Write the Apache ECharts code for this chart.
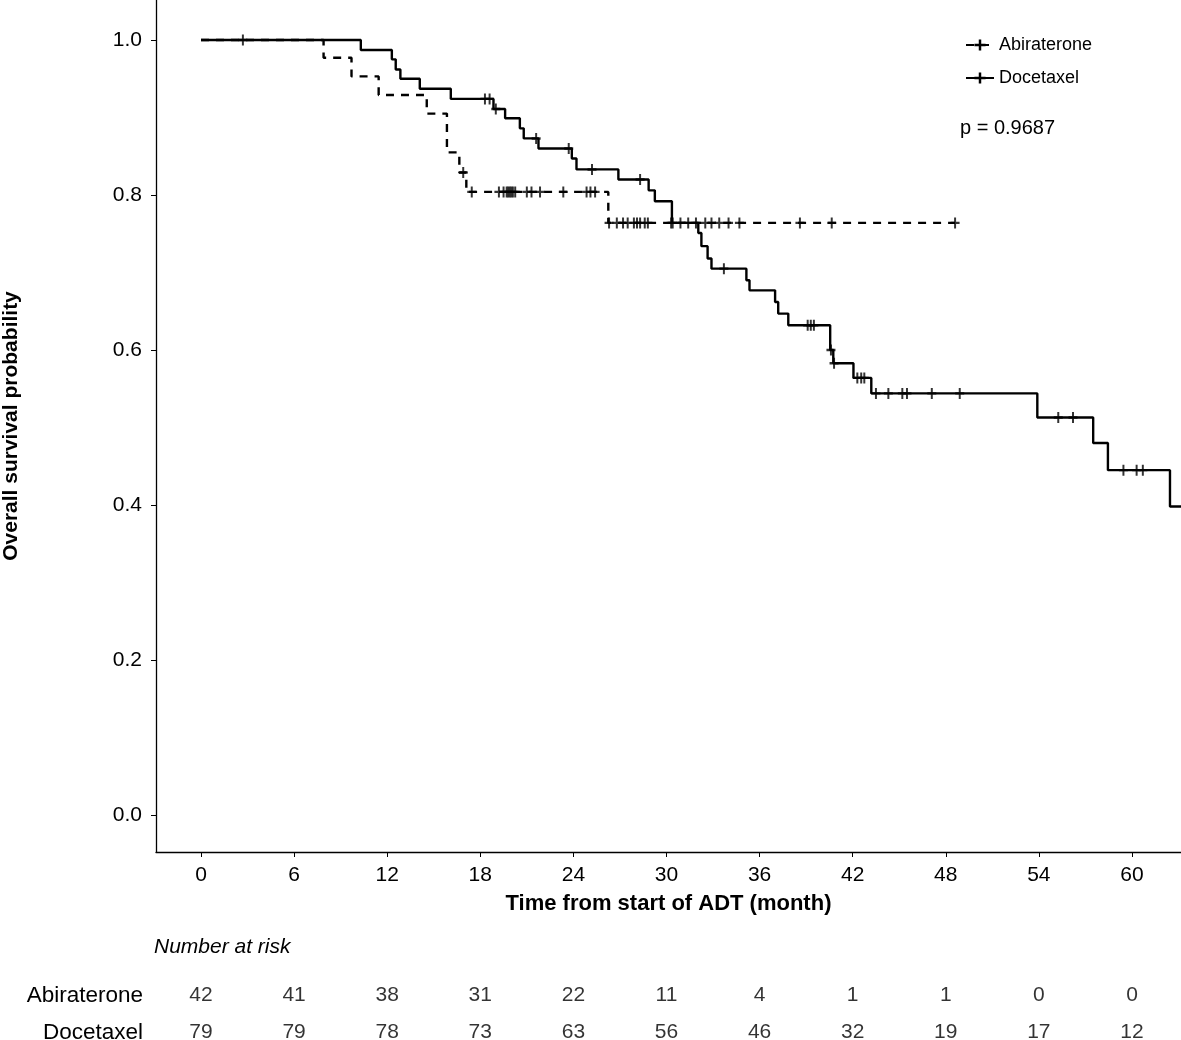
<!DOCTYPE html>
<html>
<head>
<meta charset="utf-8">
<title>Overall survival</title>
<script src="https://cdn.jsdelivr.net/npm/echarts@6/dist/echarts.min.js"></script>
<style>
    html, body { margin: 0; padding: 0; background: #fff; }
    #chart { width: 1181px; height: 1040px; }
</style>
</head>
<body>
<div id="chart"></div>
<script>
'use strict';

// step curves (time in months, survival probability)
var abiTimes = [0, 7.9, 9.7, 11.45, 14.55, 15.85, 16.65, 17.1, 26.25, 48.6];
var abiSurv = [1.0, 0.977, 0.953, 0.929, 0.905, 0.855, 0.829, 0.804, 0.764, 0.764];

var docTimes = [0, 10.3, 12.3, 12.55, 12.85, 14.1, 16.1, 18.85, 19.6, 20.55, 20.8, 21.75, 23.9, 24.2, 26.9, 28.85, 29.25, 30.35,
    32.05, 32.25, 32.65, 32.9, 35.15, 35.35, 37.0, 37.2, 37.85, 40.55, 40.75, 42.05, 43.2, 53.9, 57.5, 58.45, 62.45, 64];
var docSurv = [1.0, 0.987, 0.975, 0.962, 0.950, 0.937, 0.924, 0.911, 0.899, 0.886, 0.873, 0.860, 0.847, 0.833, 0.820, 0.806, 0.792, 0.764,
    0.751, 0.734, 0.718, 0.705, 0.690, 0.677, 0.662, 0.647, 0.632, 0.600, 0.583, 0.564, 0.544, 0.513, 0.480, 0.445, 0.398, 0.398];

// censoring times
var abiCensor = [16.9, 17.45, 19.2, 19.5, 19.7, 19.8, 19.9, 20.0, 20.1, 20.25, 21.0, 21.3, 21.85, 23.35, 24.85, 25.1, 25.4,
    26.3, 26.8, 27.2, 27.5, 27.9, 28.1, 28.3, 28.6, 28.8, 30.3, 31.9, 32.5, 32.9, 33.4, 34.0, 34.7, 38.6, 40.65, 48.6];
var docCensor = [2.7, 18.3, 18.6, 19.0, 21.6, 23.7, 25.2, 28.3, 30.4, 30.9, 31.4, 33.7, 39.1, 39.3, 39.5, 40.6, 40.8,
    42.3, 42.55, 42.75, 43.5, 44.3, 45.2, 45.5, 47.1, 48.9, 55.25, 56.2, 59.45, 60.3, 60.7];

// axis ticks
var xTicks = [0, 6, 12, 18, 24, 30, 36, 42, 48, 54, 60];
var yTicks = [0, 0.2, 0.4, 0.6, 0.8, 1.0];

// number at risk table
var groups = ['Abiraterone', 'Docetaxel'];
var riskTimes = [0, 6, 12, 18, 24, 30, 36, 42, 48, 54, 60];
var riskAbi = [42, 41, 38, 31, 22, 11, 4, 1, 1, 0, 0];
var riskDoc = [79, 79, 78, 73, 63, 56, 46, 32, 19, 17, 12];

var pText = 'p = 0.9687';

var FONT = 'Liberation Sans, Arial, sans-serif';
var plusPath = 'path://M3.9,0 H6.1 V3.9 H10 V6.1 H6.1 V10 H3.9 V6.1 H0 V3.9 H3.9 Z';

function pairs(ts, ss) {
    var out = [];
    for (var i = 0; i < ts.length; i++) {
        out.push([ts[i], ss[i]]);
    }
    return out;
}

// survival value of the step curve at time t
function stepAt(ts, ss, t) {
    var v = ss[0];
    for (var i = 0; i < ts.length; i++) {
        if (ts[i] <= t) v = ss[i];
    }
    return v;
}

function censorPoints(cs, ts, ss) {
    return cs.map(function (t) {
        return [t, stepAt(ts, ss, t)];
    });
}

function riskRow(row, counts) {
    return riskTimes.map(function (t, i) {
        return [t, row, counts[i]];
    });
}

var myChart = echarts.init(document.getElementById('chart'));

var option = {
    animation: false,
    backgroundColor: '#fff',
    textStyle: { fontFamily: FONT, color: '#000' },
    grid: [
        { left: 156, right: 0, top: 0, bottom: 188, outerBoundsMode: 'none', containLabel: false },
        { left: 156, right: 0, top: 977, height: 74, outerBoundsMode: 'none', containLabel: false }
    ],
    title: {
        text: 'Number at risk',
        left: 154,
        top: 937,
        padding: 0,
        textStyle: { fontFamily: FONT, fontSize: 21, fontStyle: 'italic', fontWeight: 'normal', color: '#000' }
    },
    legend: {
        orient: 'vertical',
        left: 965,
        top: 36,
        padding: 0,
        itemWidth: 28,
        itemHeight: 14,
        itemGap: 15,
        data: ['Abiraterone', 'Docetaxel'],
        textStyle: { fontFamily: FONT, fontSize: 18, color: '#000' }
    },
    graphic: [{
        type: 'text',
        left: 960,
        top: 118,
        style: { text: pText, fontFamily: FONT, fontSize: 20, fill: '#000' }
    }],
    xAxis: [{
        gridIndex: 0,
        type: 'value',
        min: -2.9,
        max: 63.16,
        name: 'Time from start of ADT (month)',
        nameLocation: 'middle',
        nameGap: 41,
        nameTextStyle: { fontFamily: FONT, fontSize: 22, fontWeight: 'bold', color: '#000' },
        splitLine: { show: false },
        axisLine: { onZero: false, lineStyle: { color: '#000', width: 1.3 } },
        axisTick: { customValues: xTicks, length: 5, lineStyle: { color: '#000' } },
        axisLabel: { customValues: xTicks, margin: 13, fontSize: 21, color: '#000', fontFamily: FONT }
    }, {
        gridIndex: 1,
        type: 'value',
        min: -2.9,
        max: 63.16,
        show: false
    }],
    yAxis: [{
        gridIndex: 0,
        type: 'value',
        min: -0.0477,
        max: 1.0516,
        name: 'Overall survival probability',
        nameLocation: 'middle',
        nameRotate: 90,
        nameGap: 134,
        nameTextStyle: { fontFamily: FONT, fontSize: 21, fontWeight: 'bold', color: '#000' },
        splitLine: { show: false },
        axisLine: { onZero: false, lineStyle: { color: '#000', width: 1.3 } },
        axisTick: { customValues: yTicks, length: 5, lineStyle: { color: '#000' } },
        axisLabel: {
            customValues: yTicks,
            margin: 14,
            fontSize: 21,
            color: '#000',
            fontFamily: FONT,
            formatter: function (v) { return v.toFixed(1); }
        }
    }, {
        gridIndex: 1,
        type: 'category',
        inverse: true,
        data: groups,
        axisLine: { show: false },
        axisTick: { show: false },
        splitLine: { show: false },
        axisLabel: { margin: 13, fontSize: 22.5, color: '#000', fontFamily: FONT }
    }],
    series: [{
        name: 'Abiraterone',
        type: 'line',
        step: 'end',
        xAxisIndex: 0,
        yAxisIndex: 0,
        data: pairs(abiTimes, abiSurv),
        showSymbol: false,
        symbol: plusPath,
        symbolSize: [10, 10],
        itemStyle: { color: '#000' },
        lineStyle: { color: '#000', width: 2.4, type: [8, 7] },
        z: 3
    }, {
        name: 'Docetaxel',
        type: 'line',
        step: 'end',
        xAxisIndex: 0,
        yAxisIndex: 0,
        data: pairs(docTimes, docSurv),
        showSymbol: false,
        symbol: plusPath,
        symbolSize: [10, 10],
        itemStyle: { color: '#000' },
        lineStyle: { color: '#000', width: 2.4 },
        z: 2
    }, {
        name: 'Abiraterone',
        type: 'scatter',
        xAxisIndex: 0,
        yAxisIndex: 0,
        data: censorPoints(abiCensor, abiTimes, abiSurv),
        symbol: plusPath,
        symbolSize: [9, 11],
        itemStyle: { color: '#000' },
        z: 4
    }, {
        name: 'Docetaxel',
        type: 'scatter',
        xAxisIndex: 0,
        yAxisIndex: 0,
        data: censorPoints(docCensor, docTimes, docSurv),
        symbol: plusPath,
        symbolSize: [9, 11],
        itemStyle: { color: '#000' },
        z: 4
    }, {
        // number at risk, one label per time point
        name: 'risk',
        type: 'scatter',
        xAxisIndex: 1,
        yAxisIndex: 1,
        data: riskRow('Abiraterone', riskAbi).concat(riskRow('Docetaxel', riskDoc)),
        symbolSize: 0,
        label: {
            show: true,
            position: 'inside',
            fontSize: 21,
            color: '#000',
            fontFamily: FONT,
            formatter: function (p) { return String(p.value[2]); }
        }
    }]
};

myChart.setOption(option);
</script>
</body>
</html>
